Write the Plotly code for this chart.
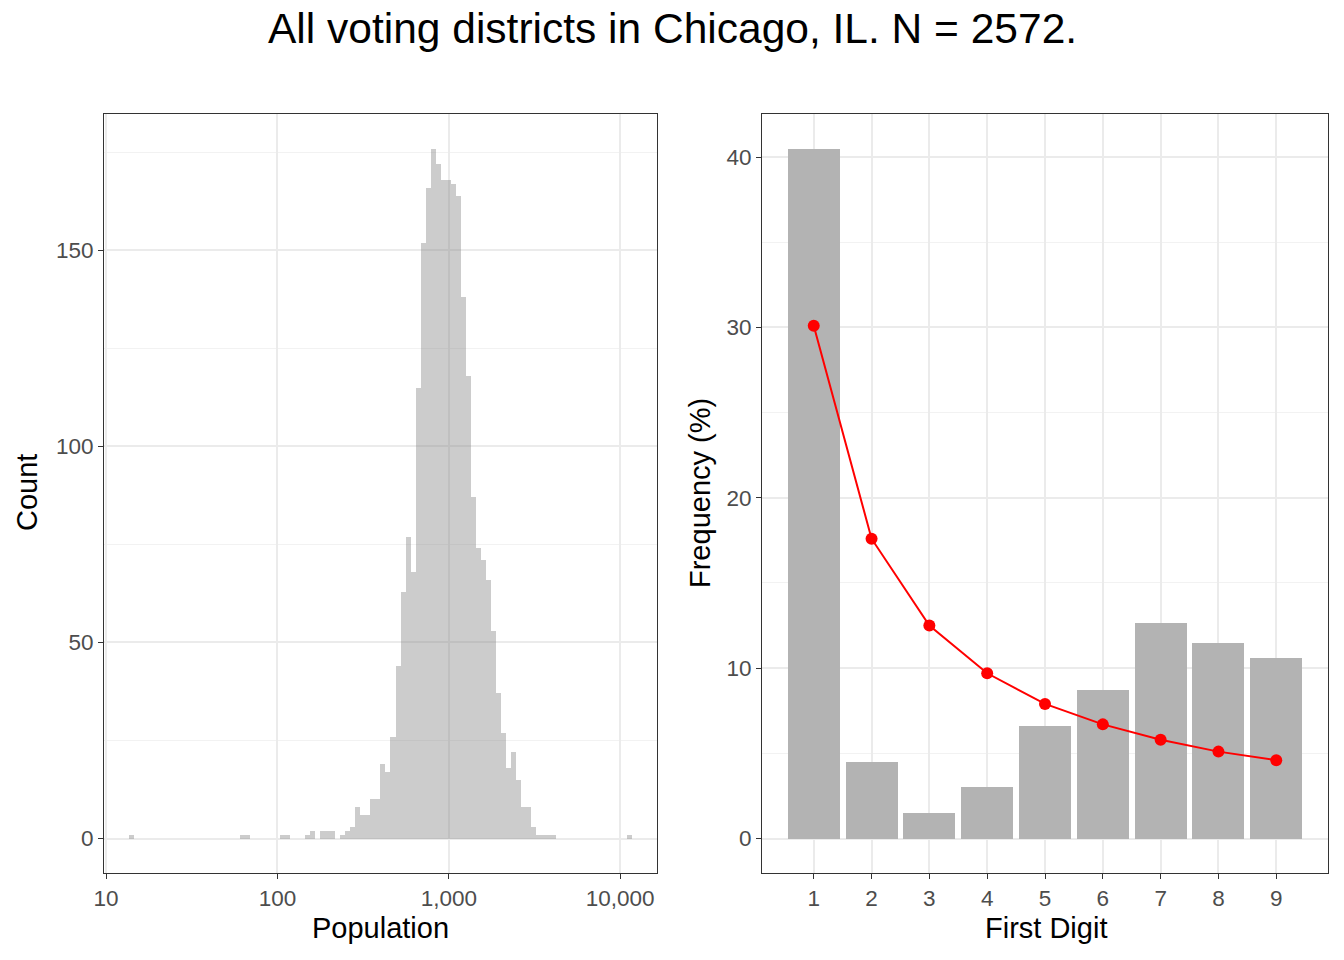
import plotly.graph_objects as go

# ---------------- data ----------------
# Left panel: histogram of log10(population), 100 bins
bin_start_log10 = 1.135      # lower edge of first bin (log10 population)
bin_width_log10 = 0.02932    # bin width (log10 units)
bin_counts = [
    1, 0, 0, 0, 0, 0, 0, 0, 0, 0,
    0, 0, 0, 0, 0, 0, 0, 0, 0, 0,
    0, 0, 1, 1, 0, 0, 0, 0, 0, 0,
    1, 1, 0, 0, 0, 1, 2, 0, 2, 2,
    2, 0, 1, 2, 3, 8, 6, 6, 10, 10,
    19, 17, 26, 44, 63, 77, 68, 115, 152, 166,
    176, 172, 168, 168, 167, 164, 138, 118, 87, 74,
    71, 66, 53, 37, 27, 18, 22, 15, 8, 8,
    3, 1, 1, 1, 1, 0, 0, 0, 0, 0,
    0, 0, 0, 0, 0, 0, 0, 0, 0, 1,
]
pop_tick_vals = [1, 2, 3, 4]
pop_tick_text = ["10", "100", "1,000", "10,000"]

# Right panel: first digit frequencies (%) and Benford expectation (%)
digits = [1, 2, 3, 4, 5, 6, 7, 8, 9]
observed_pct = [40.5, 4.5, 1.5, 3.05, 6.6, 8.7, 12.65, 11.5, 10.6]
benford_pct = [30.1, 17.6, 12.5, 9.7, 7.9, 6.7, 5.8, 5.1, 4.6]

title_text = "All voting districts in Chicago, IL. N = 2572."

# ---------------- figure ----------------
W, H = 1344, 960
FONT = "Liberation Sans, Arial, Helvetica, sans-serif"
TICKCOL = "#4D4D4D"
GRID = "#EBEBEB"
MINOR = "#F2F2F2"
BORDER = "#333333"

def px(x):
    return x / W

def py(y):
    return 1 - y / H

bin_centers = [bin_start_log10 + (i + 0.5) * bin_width_log10 for i in range(len(bin_counts))]

fig = go.Figure()
fig.add_trace(go.Bar(
    x=bin_centers, y=bin_counts, width=bin_width_log10,
    marker=dict(color="rgba(127,127,127,0.4)", line=dict(width=0)),
    xaxis="x", yaxis="y", showlegend=False, hoverinfo="x+y",
))
fig.add_trace(go.Bar(
    x=digits, y=observed_pct, width=0.9,
    marker=dict(color="#B3B3B3", line=dict(width=0)),
    xaxis="x2", yaxis="y2", showlegend=False,
))
fig.add_trace(go.Scatter(
    x=digits, y=benford_pct, mode="lines+markers",
    line=dict(color="#FF0000", width=2),
    marker=dict(color="#FF0000", size=12),
    xaxis="x2", yaxis="y2", showlegend=False,
))

ydom = [py(873), py(114)]
common = dict(
    showline=True, linecolor=BORDER, linewidth=1, mirror=True,
    ticks="outside", ticklen=5, tickwidth=1, tickcolor=BORDER,
    tickfont=dict(family=FONT, size=22.5, color=TICKCOL),
    gridcolor=GRID, gridwidth=1.5, zeroline=False, automargin=False,
)

fig.update_layout(
    width=W, height=H,
    paper_bgcolor="white", plot_bgcolor="white",
    margin=dict(l=0, r=0, t=0, b=0, pad=0),
    bargap=0,
    barmode="overlay",
    xaxis=dict(domain=[px(104), px(656.7)], range=[0.988, 4.213],
               tickmode="array", tickvals=pop_tick_vals, ticktext=pop_tick_text,
               anchor="y", **common),
    yaxis=dict(domain=ydom, range=[-8.8, 184.8], tickmode="linear", tick0=0, dtick=50,
               minor=dict(showgrid=True, gridcolor=MINOR, gridwidth=1, tick0=0, dtick=25, ticks=""),
               anchor="x", **common),
    xaxis2=dict(domain=[px(762), px(1328)], range=[0.105, 9.895],
                tickmode="array", tickvals=digits, ticktext=[str(d) for d in digits],
                anchor="y2", **common),
    yaxis2=dict(domain=ydom, range=[-2.025, 42.53], tickmode="linear", tick0=0, dtick=10,
                minor=dict(showgrid=True, gridcolor=MINOR, gridwidth=1, tick0=0, dtick=5, ticks=""),
                anchor="x2", **common),
)

def ann(text, x, y, size, angle=0, color="black"):
    fig.add_annotation(text=text, x=px(x), y=py(y), xref="paper", yref="paper",
                       xanchor="center", yanchor="middle", showarrow=False,
                       textangle=angle, font=dict(family=FONT, size=size, color=color))

ann(title_text, 672, 29, 42.5)
ann("Population", 380, 928, 29)
ann("First Digit", 1046, 928, 29)
ann("Count", 27, 493, 29, angle=-90)
ann("Frequency (%)", 700, 493, 29, angle=-90)

fig.write_html("out.html",
               config={"displayModeBar": False},
               post_script="document.body.style.margin='0';document.body.style.overflow='hidden';")
